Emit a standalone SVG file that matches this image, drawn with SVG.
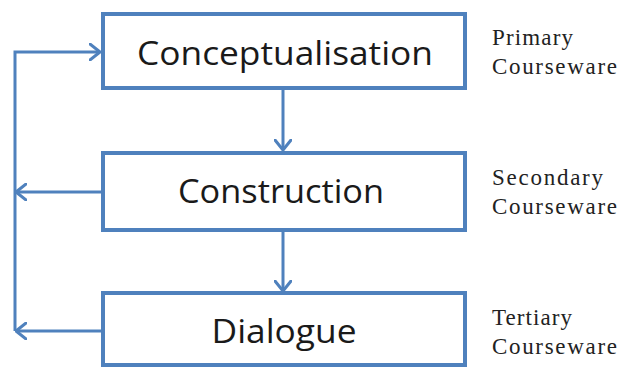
<svg xmlns="http://www.w3.org/2000/svg" width="619" height="369" viewBox="0 0 619 369">
<defs>
<style>
.box{fill:#fff;stroke:#4F81BD;stroke-width:4}
.ln{fill:none;stroke:#4F81BD;stroke-width:3}
.main{font-family:"Open Sans","Liberation Sans",sans-serif;font-size:33px;fill:#1a1a1a;text-anchor:middle}
.side{font-family:"Liberation Serif",serif;font-size:23px;fill:#222}
</style>
<marker id="ah" viewBox="0 0 12 18" refX="11" refY="9" markerWidth="12" markerHeight="18" markerUnits="userSpaceOnUse" orient="auto">
<path d="M1,1 L11,9 L1,17" fill="none" stroke="#4F81BD" stroke-width="3" stroke-linecap="round" stroke-linejoin="round"/>
</marker>
</defs>
<rect width="619" height="369" fill="#fff"/>
<g id="connectors">
<line class="ln" x1="283" y1="90" x2="283" y2="150" marker-end="url(#ah)"/>
<line class="ln" x1="283" y1="232" x2="283" y2="291" marker-end="url(#ah)"/>
<polyline class="ln" points="15,331 15,52 100,52" marker-end="url(#ah)"/>
<line class="ln" x1="102" y1="192" x2="16" y2="192" marker-end="url(#ah)"/>
<line class="ln" x1="102" y1="331" x2="16" y2="331" marker-end="url(#ah)"/>
</g>
<g id="conceptualisation">
<rect class="box" x="103" y="14" width="362" height="74"/>
<text class="main" x="285" y="65" textLength="296" lengthAdjust="spacingAndGlyphs">Conceptualisation</text>
</g>
<g id="construction">
<rect class="box" x="103" y="153" width="362" height="77"/>
<text class="main" x="281" y="203" textLength="206" lengthAdjust="spacingAndGlyphs">Construction</text>
</g>
<g id="dialogue">
<rect class="box" x="103" y="293" width="362" height="72"/>
<text class="main" x="284" y="343" textLength="145" lengthAdjust="spacingAndGlyphs">Dialogue</text>
</g>
<g id="labels">
<text class="side" x="492" y="45" textLength="81">Primary</text>
<text class="side" x="492" y="74" textLength="125">Courseware</text>
<text class="side" x="492" y="185" textLength="111">Secondary</text>
<text class="side" x="492" y="214" textLength="125">Courseware</text>
<text class="side" x="492" y="325" textLength="80">Tertiary</text>
<text class="side" x="492" y="354" textLength="125">Courseware</text>
</g>
</svg>
